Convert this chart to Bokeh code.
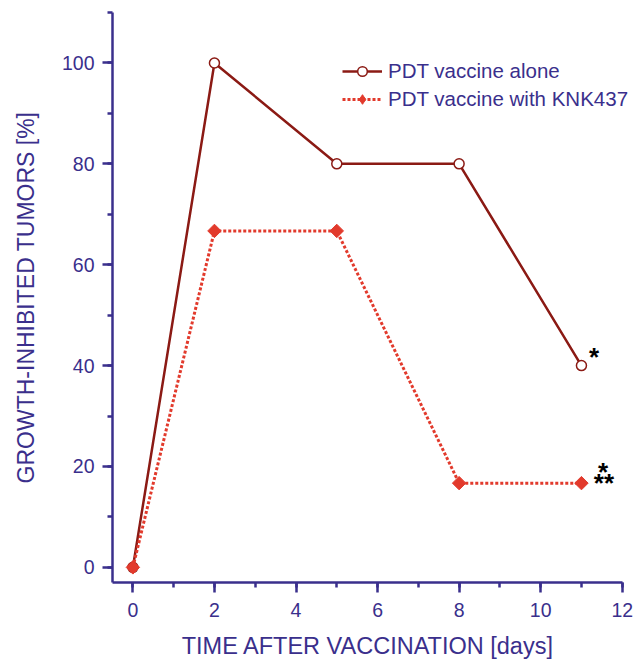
import math
from bokeh.plotting import figure
from bokeh.models import SingleIntervalTicker, Legend, LegendItem, Label, Range1d
from bokeh.embed import file_html
from bokeh.resources import INLINE

days = [0, 2, 5, 8, 11]
pdt_alone = [0, 100, 80, 80, 40]
pdt_knk437 = [0, 66.7, 66.7, 16.7, 16.7]

x_ticks_interval = 2
y_ticks_interval = 20

stars_x = [11, 11, 11]
stars_y = [40, 16.7, 16.7]
stars_text = ["*", "*", "**"]

BLUE = "#3a2f8c"
DARK = "#8b1a14"
RED = "#e23a2c"
FONT = "Liberation Sans"

p = figure(width=644, height=661, output_backend="svg", toolbar_location=None,
           x_range=Range1d(-0.5, 12.35), y_range=Range1d(-3, 110),
           min_border_left=112, min_border_right=8, min_border_top=12, min_border_bottom=78)
p.outline_line_color = None
p.grid.grid_line_color = None
p.background_fill_color = "white"
p.border_fill_color = "white"

p.xaxis.ticker = SingleIntervalTicker(interval=x_ticks_interval, num_minor_ticks=2)
p.yaxis.ticker = SingleIntervalTicker(interval=y_ticks_interval, num_minor_ticks=2)
p.xaxis.bounds = (-0.5, 12)

for ax in (p.xaxis, p.yaxis):
    ax.axis_line_color = BLUE
    ax.axis_line_width = 2.5
    ax.major_tick_line_color = BLUE
    ax.major_tick_line_width = 2.5
    ax.minor_tick_line_color = BLUE
    ax.minor_tick_line_width = 2.5
    ax.major_tick_out = 10
    ax.major_tick_in = 0
    ax.minor_tick_out = 5
    ax.minor_tick_in = 0
    ax.major_label_text_color = BLUE
    ax.major_label_text_font = FONT
    ax.major_label_text_font_size = "19.5px"
    ax.axis_label_text_color = BLUE
    ax.axis_label_text_font = FONT
    ax.axis_label_text_font_style = "normal"

p.xaxis.axis_label_text_font_size = "23.5px"
p.yaxis.axis_label_text_font_size = "23px"
p.xaxis.axis_label = "TIME AFTER VACCINATION [days]\u00a0\u00a0"
p.yaxis.axis_label = "GROWTH-INHIBITED TUMORS [%]"
p.xaxis.major_label_standoff = 10
p.yaxis.major_label_standoff = 8
p.xaxis.axis_label_standoff = 13
p.yaxis.axis_label_standoff = 20

l1 = p.line(days, pdt_alone, line_color=DARK, line_width=2.5)
# small legend-proxy markers drawn beneath the real markers
lg1 = p.scatter(days, pdt_alone, marker="circle", size=7, line_color=DARK,
                line_width=1.5, fill_color="white")
m1 = p.scatter(days, pdt_alone, marker="circle", size=10, line_color=DARK,
               line_width=1.5, fill_color="white")
l2 = p.line(days, pdt_knk437, line_color=RED, line_width=3, line_dash="3 2")
lg2 = p.scatter(days, pdt_knk437, marker="diamond", size=11, line_color=RED,
                fill_color=RED, line_width=1)
m2 = p.scatter(days, pdt_knk437, marker="square", angle=math.pi / 4, size=9.5,
               line_color=RED, fill_color=RED, line_width=1)

legend = Legend(items=[
    LegendItem(label="PDT vaccine alone", renderers=[l1, lg1]),
    LegendItem(label="PDT vaccine with KNK437", renderers=[l2, lg2]),
], location=(230, 471))
legend.border_line_color = None
legend.background_fill_alpha = 0
legend.padding = 0
legend.margin = 0
legend.spacing = 4
legend.glyph_width = 40
legend.glyph_height = 24
legend.label_height = 24
legend.label_standoff = 6
legend.label_text_font = FONT
legend.label_text_font_size = "20.5px"
legend.label_text_color = BLUE
legend.label_text_baseline = "middle"
p.add_layout(legend, "center")

offsets = [(12.5, 8.5), (21.5, 11.5), (22.5, 0.5)]
for sx, sy, st, (dx, dy) in zip(stars_x, stars_y, stars_text, offsets):
    p.add_layout(Label(x=sx, y=sy, text=st, x_offset=dx, y_offset=dy,
                       text_font=FONT, text_font_size="26px", text_font_style="bold",
                       text_color="black", text_align="center",
                       text_baseline="alphabetic"))

open("out.html", "w").write(file_html(p, INLINE))
